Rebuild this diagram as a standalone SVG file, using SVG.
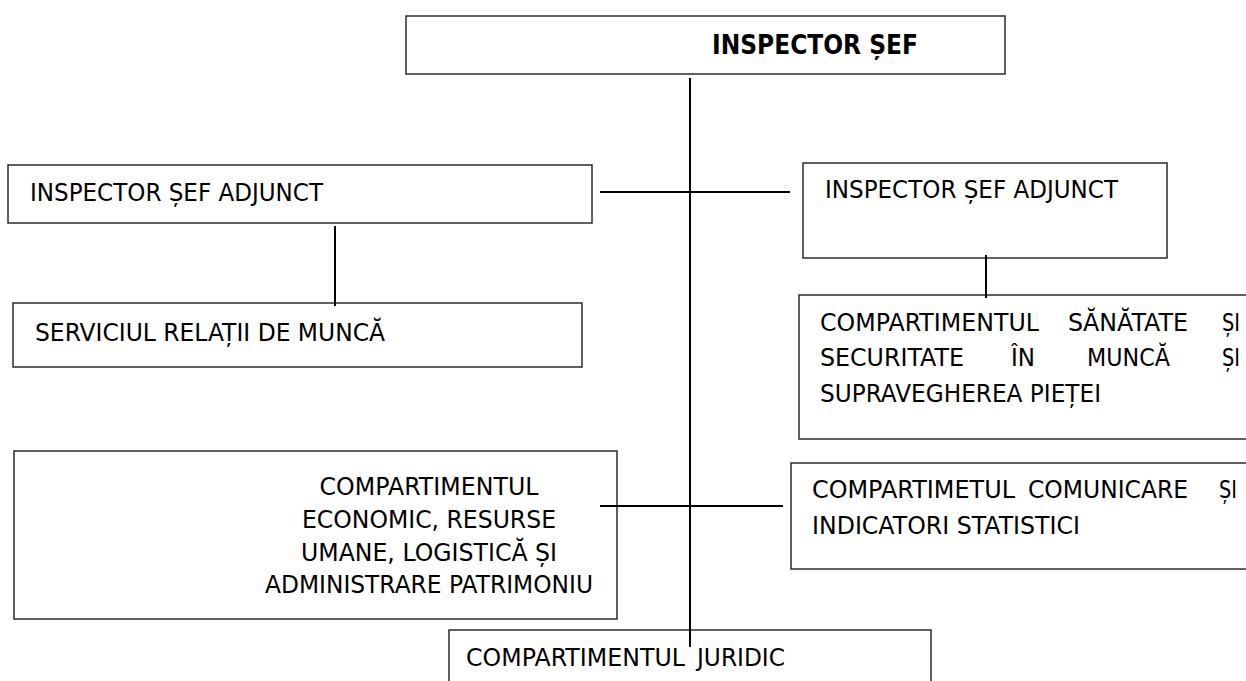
<svg xmlns="http://www.w3.org/2000/svg" width="1246" height="681" viewBox="0 0 1246 681">
<style>
.box{fill:#fff;stroke:#2b2b2b;stroke-width:1.5}
.t{font-family:"DejaVu Sans","Liberation Sans",sans-serif;font-size:24.5px;fill:#000}
.b{font-family:"DejaVu Sans","Liberation Sans",sans-serif;font-size:26px;font-weight:bold;fill:#000}
.c{stroke:#000;stroke-width:2;fill:none}
</style>
<rect width="1246" height="681" fill="#fff"/>
<g id="inspector-sef">
<rect class="box" x="406" y="16" width="599" height="58"/>
<text class="b" x="712" y="54" textLength="206" lengthAdjust="spacingAndGlyphs">INSPECTOR ȘEF</text>
</g>
<g id="adjunct-left">
<rect class="box" x="8" y="165" width="584" height="58"/>
<text class="t" x="30" y="201" textLength="293" lengthAdjust="spacingAndGlyphs">INSPECTOR ȘEF ADJUNCT</text>
</g>
<g id="adjunct-right">
<rect class="box" x="803" y="163" width="364" height="95"/>
<text class="t" x="825" y="198" textLength="293" lengthAdjust="spacingAndGlyphs">INSPECTOR ȘEF ADJUNCT</text>
</g>
<g id="serviciul">
<rect class="box" x="13" y="303" width="569" height="64"/>
<text class="t" x="35" y="341" textLength="350" lengthAdjust="spacingAndGlyphs">SERVICIUL RELAȚII DE MUNCĂ</text>
</g>
<g id="sanatate">
<rect class="box" x="799" y="295" width="470" height="144"/>
<text class="t" y="331"><tspan x="820" textLength="219" lengthAdjust="spacingAndGlyphs">COMPARTIMENTUL</tspan><tspan x="1068" textLength="120" lengthAdjust="spacingAndGlyphs">SĂNĂTATE</tspan><tspan x="1222" textLength="18" lengthAdjust="spacingAndGlyphs">ȘI</tspan></text>
<text class="t" y="366"><tspan x="820" textLength="144" lengthAdjust="spacingAndGlyphs">SECURITATE</tspan><tspan x="1011" textLength="24" lengthAdjust="spacingAndGlyphs">ÎN</tspan><tspan x="1087" textLength="83" lengthAdjust="spacingAndGlyphs">MUNCĂ</tspan><tspan x="1222" textLength="18" lengthAdjust="spacingAndGlyphs">ȘI</tspan></text>
<text class="t" x="820" y="402" textLength="281" lengthAdjust="spacingAndGlyphs">SUPRAVEGHEREA PIEȚEI</text>
</g>
<g id="economic">
<rect class="box" x="14" y="451" width="603" height="168"/>
<text class="t" text-anchor="middle" x="429" y="495" textLength="219" lengthAdjust="spacingAndGlyphs">COMPARTIMENTUL</text>
<text class="t" text-anchor="middle" x="429" y="528" textLength="254" lengthAdjust="spacingAndGlyphs">ECONOMIC, RESURSE</text>
<text class="t" text-anchor="middle" x="429" y="561" textLength="256" lengthAdjust="spacingAndGlyphs">UMANE, LOGISTICĂ ȘI</text>
<text class="t" text-anchor="middle" x="429" y="593" textLength="328" lengthAdjust="spacingAndGlyphs">ADMINISTRARE PATRIMONIU</text>
</g>
<g id="comunicare">
<rect class="box" x="791" y="463" width="480" height="106"/>
<text class="t" y="498"><tspan x="812" textLength="203" lengthAdjust="spacingAndGlyphs">COMPARTIMETUL</tspan><tspan x="1028" textLength="160" lengthAdjust="spacingAndGlyphs">COMUNICARE</tspan><tspan x="1219" textLength="18" lengthAdjust="spacingAndGlyphs">ȘI</tspan></text>
<text class="t" x="812" y="534" textLength="268" lengthAdjust="spacingAndGlyphs">INDICATORI STATISTICI</text>
</g>
<g id="juridic">
<rect class="box" x="449" y="630" width="482" height="80"/>
<text class="t" y="666"><tspan x="466" textLength="219" lengthAdjust="spacingAndGlyphs">COMPARTIMENTUL</tspan><tspan x="697" textLength="88" lengthAdjust="spacingAndGlyphs">JURIDIC</tspan></text>
</g>
<g id="connectors">
<line class="c" x1="690" y1="78" x2="690" y2="647"/>
<line class="c" x1="600" y1="192" x2="790" y2="192"/>
<line class="c" x1="335" y1="226" x2="335" y2="306"/>
<line class="c" x1="986" y1="255" x2="986" y2="298"/>
<line class="c" x1="600" y1="506" x2="783" y2="506"/>
</g>
</svg>
